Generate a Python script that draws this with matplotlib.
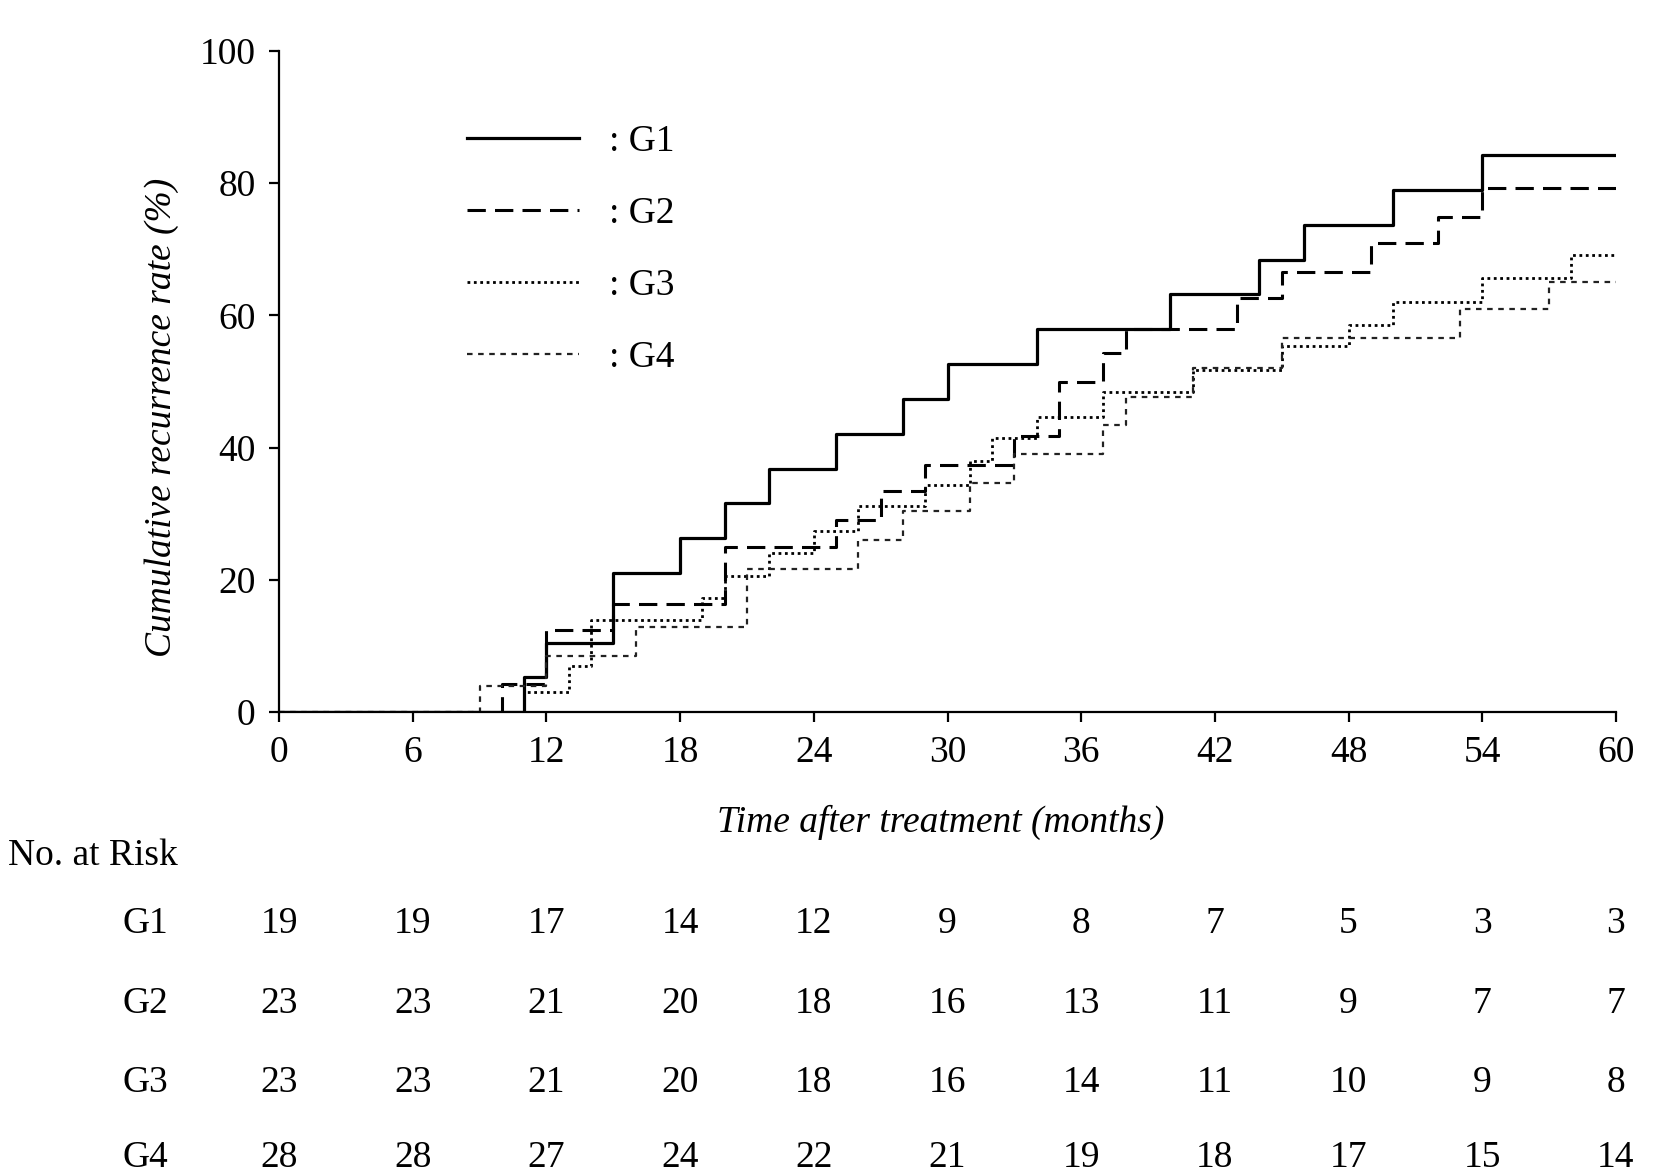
import matplotlib
matplotlib.use("Agg")
import matplotlib.pyplot as plt

plt.rcParams["font.family"] = ["Liberation Serif", "DejaVu Serif"]

# step times (months) and cumulative recurrence (%)
g1_t = [0, 11, 12, 15, 18, 20, 22, 25, 28, 30, 34, 40, 44, 46, 50, 54, 60]
g1_y = [0, 5.3, 10.5, 21.1, 26.3, 31.6, 36.8, 42.1, 47.4, 52.6, 57.9, 63.2, 68.4, 73.7, 78.9, 84.2, 84.2]

g2_t = [0, 10, 12, 15, 20, 25, 27, 29, 33, 35, 37, 38, 43, 45, 49, 52, 54, 60]
g2_y = [0, 4.2, 12.4, 16.4, 24.9, 29.1, 33.4, 37.3, 41.7, 50.0, 54.3, 57.9, 62.6, 66.6, 71.0, 74.9, 79.3, 79.3]

g3_t = [0, 11, 13, 14, 19, 20, 22, 24, 26, 29, 31, 32, 34, 37, 41, 45, 48, 50, 54, 58, 60]
g3_y = [0, 3.1, 6.9, 13.9, 17.2, 20.5, 24.0, 27.4, 31.1, 34.4, 38.0, 41.4, 44.6, 48.4, 51.7, 55.3,
        58.6, 62.0, 65.6, 69.2, 69.2]

g4_t = [0, 9, 12, 16, 21, 26, 28, 31, 33, 37, 38, 41, 45, 53, 57, 60]
g4_y = [0, 4.0, 8.5, 12.8, 21.7, 26.0, 30.4, 34.6, 39.1, 43.4, 47.6, 52.1, 56.6, 61.0, 65.0, 65.0]

groups = ["G1", "G2", "G3", "G4"]
risk_times = [0, 6, 12, 18, 24, 30, 36, 42, 48, 54, 60]
risk_g1 = [19, 19, 17, 14, 12, 9, 8, 7, 5, 3, 3]
risk_g2 = [23, 23, 21, 20, 18, 16, 13, 11, 9, 7, 7]
risk_g3 = [23, 23, 21, 20, 18, 16, 14, 11, 10, 9, 8]
risk_g4 = [28, 28, 27, 24, 22, 21, 19, 18, 17, 15, 14]

fs = 27
fig = plt.figure(figsize=(16.54, 11.74), dpi=100)
ax = fig.add_axes([279 / 1654, 1 - 712 / 1174, 1337 / 1654, 661 / 1174])

ax.step(g1_t, g1_y, where="post", color="black", lw=2.3, label=": G1")
ax.step(g2_t, g2_y, where="post", color="black", lw=2.2, linestyle=(0, (6, 3)), label=": G2")
ax.step(g3_t, g3_y, where="post", color="black", lw=2.0, linestyle=(0, (1, 1.3)), label=": G3")
ax.step(g4_t, g4_y, where="post", color="#222222", lw=1.6, linestyle=(0, (2.5, 2.5)), label=": G4")

ax.set_xlim(0, 60)
ax.set_ylim(0, 100)
ax.set_xticks(risk_times)
ax.set_yticks([0, 20, 40, 60, 80, 100])
for s in ["top", "right"]:
    ax.spines[s].set_visible(False)
for s in ["left", "bottom"]:
    ax.spines[s].set_linewidth(1.6)
ax.tick_params(direction="out", length=7, width=1.6, labelsize=fs, pad=10)

ax.set_xlabel("Time after treatment (months)", fontsize=fs, style="italic")
ax.set_ylabel("Cumulative recurrence rate (%)", fontsize=fs, style="italic")
ax.xaxis.set_label_coords(0.495, -0.14)
ax.yaxis.set_label_coords(-0.075, 0.445)

leg = ax.legend(loc="upper left", bbox_to_anchor=(0.115, 0.94), frameon=False, fontsize=fs,
                handlelength=3.0, handletextpad=0.8, labelspacing=1.0)

# number at risk table
fig.text(0.005, 1 - 856 / 1174, "No. at Risk", fontsize=fs, ha="left", va="center")
rows = [risk_g1, risk_g2, risk_g3, risk_g4]
row_y = [924, 1004, 1083, 1158]
trans = matplotlib.transforms.blended_transform_factory(ax.transData, fig.transFigure)
for g, vals, yy in zip(groups, rows, row_y):
    fig.text(145 / 1654, 1 - yy / 1174, g, fontsize=fs, ha="center", va="center")
    for t, v in zip(risk_times, vals):
        ax.text(t, 1 - yy / 1174, str(v), fontsize=fs, ha="center", va="center", transform=trans)

fig.savefig("out.png", dpi=100)
